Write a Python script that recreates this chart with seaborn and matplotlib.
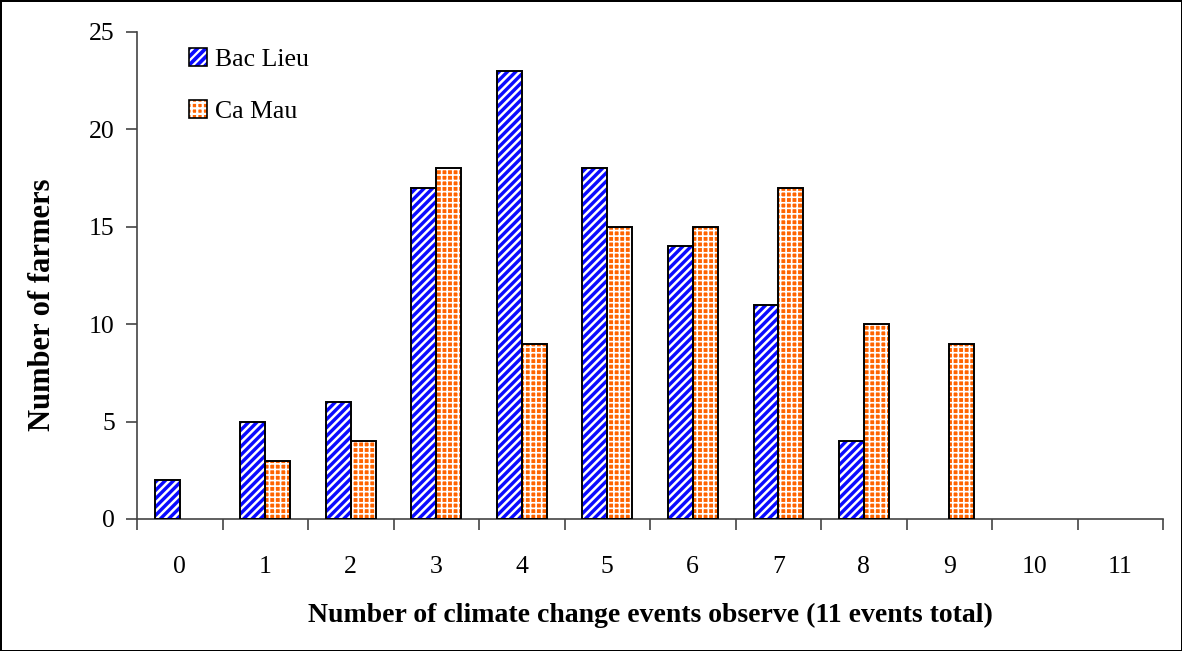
import numpy as np
import pandas as pd
import matplotlib
matplotlib.use("Agg")
import matplotlib.pyplot as plt
from matplotlib.patches import Patch, Rectangle
from matplotlib.legend_handler import HandlerTuple
import seaborn as sns

events = list(range(12))
bac_lieu = [2, 5, 6, 17, 23, 18, 14, 11, 4, 0, 0, 0]
ca_mau = [0, 3, 4, 18, 9, 15, 15, 17, 10, 9, 0, 0]
regions = ["Bac Lieu", "Ca Mau"]

df = pd.DataFrame({
    "events": [str(e) for e in events] * 2,
    "farmers": bac_lieu + ca_mau,
    "region": [regions[0]] * len(events) + [regions[1]] * len(events),
})

sns.set_style("white")
plt.rcParams["font.family"] = ["Liberation Serif", "DejaVu Serif"]
plt.rcParams["hatch.linewidth"] = 1.6
for key in ["text.color", "axes.labelcolor", "xtick.color", "ytick.color"]:
    plt.rcParams[key] = "black"

fig = plt.figure(figsize=(11.82, 6.51), dpi=100)
fig.patch.set_edgecolor("black")
fig.patch.set_linewidth(2)
ax = fig.add_axes([0.1159, 0.2028, 0.8681, 0.7481])

fills = {"Bac Lieu": "#0A0AFF", "Ca Mau": "#FF6400"}
hatches = {"Bac Lieu": "////", "Ca Mau": "+++"}
hatch_lw = {"Bac Lieu": 1.8, "Ca Mau": 1.2}


def style_hatch(patch, region):
    patch.set_hatch(hatches[region])
    patch.set_edgecolor("white")
    patch.set_linewidth(0)
    if hasattr(patch, "set_hatch_linewidth"):
        patch.set_hatch_linewidth(hatch_lw[region])


sns.barplot(data=df, x="events", y="farmers", hue="region",
            palette=fills, saturation=1, width=0.58, dodge=True, ax=ax,
            linewidth=0, legend=False)

for container, reg in zip(ax.containers, regions):
    for bar in container:
        style_hatch(bar, reg)
        h = bar.get_height()
        if h > 0:
            ax.add_patch(Rectangle((bar.get_x(), 0), bar.get_width(), h,
                                   fill=False, edgecolor="black",
                                   linewidth=1.4, zorder=3))

# Legend: hatched square keys with a thin black outline, no frame
handles = []
for r in regions:
    fill_patch = Patch(facecolor=fills[r])
    style_hatch(fill_patch, r)
    outline = Patch(facecolor="none", edgecolor="black", linewidth=1.2)
    handles.append((fill_patch, outline))
leg = ax.legend(handles, regions, loc="upper left", bbox_to_anchor=(0.038, 0.993),
                frameon=False, borderpad=0, fontsize=18.5, handlelength=0.7,
                handleheight=0.7, handletextpad=0.3, labelspacing=1.12,
                handler_map={tuple: HandlerTuple(ndivide=1, pad=0)})

ax.set_ylim(0, 25)
ax.set_xlim(-0.5, 11.5)
ax.set_yticks(np.arange(0, 26, 5))
ax.set_xticks(np.arange(-0.5, 12, 1))
ax.set_xticklabels([])
ax.set_xticks(np.arange(12), minor=True)
ax.set_xticklabels([str(e) for e in events], minor=True)
ax.tick_params(axis="x", which="major", direction="out", length=8, width=1.2,
               color="#444444", bottom=True)
ax.tick_params(axis="x", which="minor", length=0, pad=27, labelsize=18.5)
ax.tick_params(axis="y", direction="out", length=8, width=1.2, color="#444444",
               left=True, labelsize=18.5, pad=8)

for s in ["top", "right"]:
    ax.spines[s].set_visible(False)
for s in ["left", "bottom"]:
    ax.spines[s].set_color("#444444")
    ax.spines[s].set_linewidth(1.2)

ax.set_xlabel("Number of climate change events observe (11 events total)",
              fontsize=20, fontweight="bold")
ax.set_ylabel("Number of farmers", fontsize=22, fontweight="bold")
ax.xaxis.set_label_coords(0.5, -0.173)
ax.yaxis.set_label_coords(-0.078, 0.44)

fig.savefig("out.png", dpi=100)
